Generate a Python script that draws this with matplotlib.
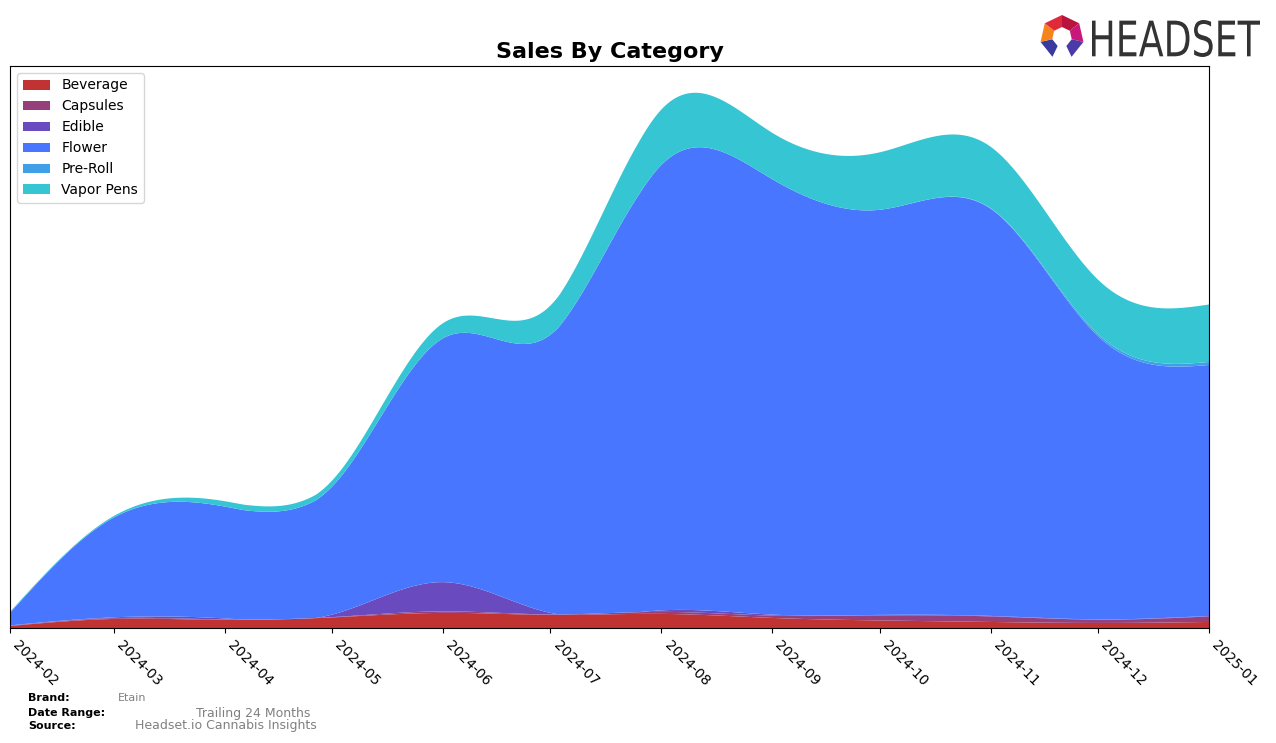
import numpy as np
import pandas as pd
import matplotlib
matplotlib.use("Agg")
import matplotlib.pyplot as plt
import matplotlib.dates as mdates
from matplotlib.patches import Polygon, PathPatch
from matplotlib.textpath import TextPath
from matplotlib.font_manager import FontProperties
from matplotlib.transforms import Affine2D

# ---------------- data ----------------
months = ["2024-02", "2024-03", "2024-04", "2024-05", "2024-06", "2024-07",
          "2024-08", "2024-09", "2024-10", "2024-11", "2024-12", "2025-01"]
categories = ["Beverage", "Capsules", "Edible", "Flower", "Pre-Roll", "Vapor Pens"]
beverage = [2, 9, 8, 10.5, 15, 13, 14, 10, 7.5, 6, 5, 6]
capsules = [0.3, 0.8, 0.5, 0.3, 1.5, 0.5, 2, 2.3, 5, 5.5, 3.3, 5.5]
edible = [0.3, 0.8, 1, 2.5, 29, 1.5, 1.5, 1, 0.5, 0.5, 0.3, 0.5]
flower = [12.4, 99, 111, 127, 242, 276, 442, 432, 402, 404, 281, 249]
pre_roll = [0, 0, 0, 0, 0, 0, 0, 0, 0, 0.5, 2, 3]
vapor_pens = [1, 1.5, 5.3, 6, 15, 29, 55, 46, 57, 61, 54, 57]
colors = ["#C13333", "#963F7A", "#6A4BBF", "#4876FF", "#3FA0E8", "#35C5D3"]

brand = "Etain"
date_range = "Trailing 24 Months"
source = "Headset.io Cannabis Insights"


def spline_natural(x, y, xs):
    x = np.asarray(x, float)
    y = np.asarray(y, float)
    n = len(x)
    h = np.diff(x)
    A = np.zeros((n, n))
    b = np.zeros(n)
    A[0, 0] = 1.0
    A[-1, -1] = 1.0
    for i in range(1, n - 1):
        A[i, i - 1] = h[i - 1]
        A[i, i] = 2 * (h[i - 1] + h[i])
        A[i, i + 1] = h[i]
        b[i] = 6 * ((y[i + 1] - y[i]) / h[i] - (y[i] - y[i - 1]) / h[i - 1])
    M = np.linalg.solve(A, b)
    idx = np.clip(np.searchsorted(x, xs) - 1, 0, n - 2)
    x0, x1 = x[idx], x[idx + 1]
    hh = x1 - x0
    out = (M[idx] * (x1 - xs) ** 3 / (6 * hh) + M[idx + 1] * (xs - x0) ** 3 / (6 * hh)
           + (y[idx] / hh - M[idx] * hh / 6) * (x1 - xs)
           + (y[idx + 1] / hh - M[idx + 1] * hh / 6) * (xs - x0))
    return out


xd = mdates.date2num(pd.to_datetime(months))
xs = np.linspace(xd[0], xd[-1], 600)
series = [beverage, capsules, edible, flower, pre_roll, vapor_pens]
smooth = [np.clip(spline_natural(xd, s, xs), 0, None) for s in series]

W, H = 1276, 743
fig = plt.figure(figsize=(W / 100, H / 100), dpi=100)
ax = fig.add_axes([10 / W, 1 - 628 / H, (1209 - 10) / W, (628 - 66) / H])
ax.stackplot(mdates.num2date(xs), *smooth, labels=categories, colors=colors, linewidth=0)
total = np.sum(smooth, axis=0)
ax.set_ylim(0, total.max() * 1.05)
ax.set_xlim(mdates.num2date(xd[0]), mdates.num2date(xd[-1]))
ax.set_yticks([])
ax.xaxis.set_major_locator(mdates.MonthLocator())
ax.xaxis.set_major_formatter(mdates.DateFormatter("%Y-%m"))
for lab in ax.get_xticklabels():
    lab.set_rotation(-45)
    lab.set_ha("left")
ax.tick_params(axis="x", labelsize=10)
ax.set_title("Sales By Category", fontsize=16, fontweight="bold")
ax.legend(loc="upper left", fontsize=10)

# footer
fig.text(28 / W, 1 - 698 / H, "Brand:", fontsize=8, fontweight="bold", va="center")
fig.text(118 / W, 1 - 698 / H, brand, fontsize=8, color="gray", va="center")
fig.text(28 / W, 1 - 713 / H, "Date Range:", fontsize=8, fontweight="bold", va="center")
fig.text(196 / W, 1 - 713 / H, date_range, fontsize=9, color="gray", va="center")
fig.text(28 / W, 1 - 726 / H, "Source:", fontsize=8, fontweight="bold", va="center")
fig.text(135 / W, 1 - 726 / H, source, fontsize=9, color="gray", va="center")

# logo
lax = fig.add_axes([0, 0, 1, 1], zorder=5)
lax.set_xlim(0, W)
lax.set_ylim(0, H)
lax.axis("off")
lax.patch.set_alpha(0)
cx, cy = 1062, H - 37
ro, ri = 22, 10
angs = np.deg2rad(90 - np.arange(8) * 360 / 7)
seg_colors = ["#B8143E", "#C8197B", "#4A3BA8", None, "#3A3A9E", "#F5841F", "#E02A3A"]
for k, c in enumerate(seg_colors):
    if c is None:
        continue
    a0, a1 = angs[k], angs[k + 1]
    pts = [(cx + ro * np.cos(a0), cy + ro * np.sin(a0)),
           (cx + ro * np.cos(a1), cy + ro * np.sin(a1)),
           (cx + ri * np.cos(a1), cy + ri * np.sin(a1)),
           (cx + ri * np.cos(a0), cy + ri * np.sin(a0))]
    lax.add_patch(Polygon(pts, closed=True, color=c, lw=0))
tp = TextPath((0, 0), "HEADSET", size=40, prop=FontProperties(family="DejaVu Sans"))
bb = tp.get_extents()
sx = (1260 - 1092) / bb.width
sy = (57 - 20) / bb.height
tr = Affine2D().translate(-bb.x0, -bb.y0).scale(sx, sy).translate(1092, H - 57)
lax.add_patch(PathPatch(tr.transform_path(tp), color="#333333", lw=0))

fig.savefig("out.png", dpi=100)
